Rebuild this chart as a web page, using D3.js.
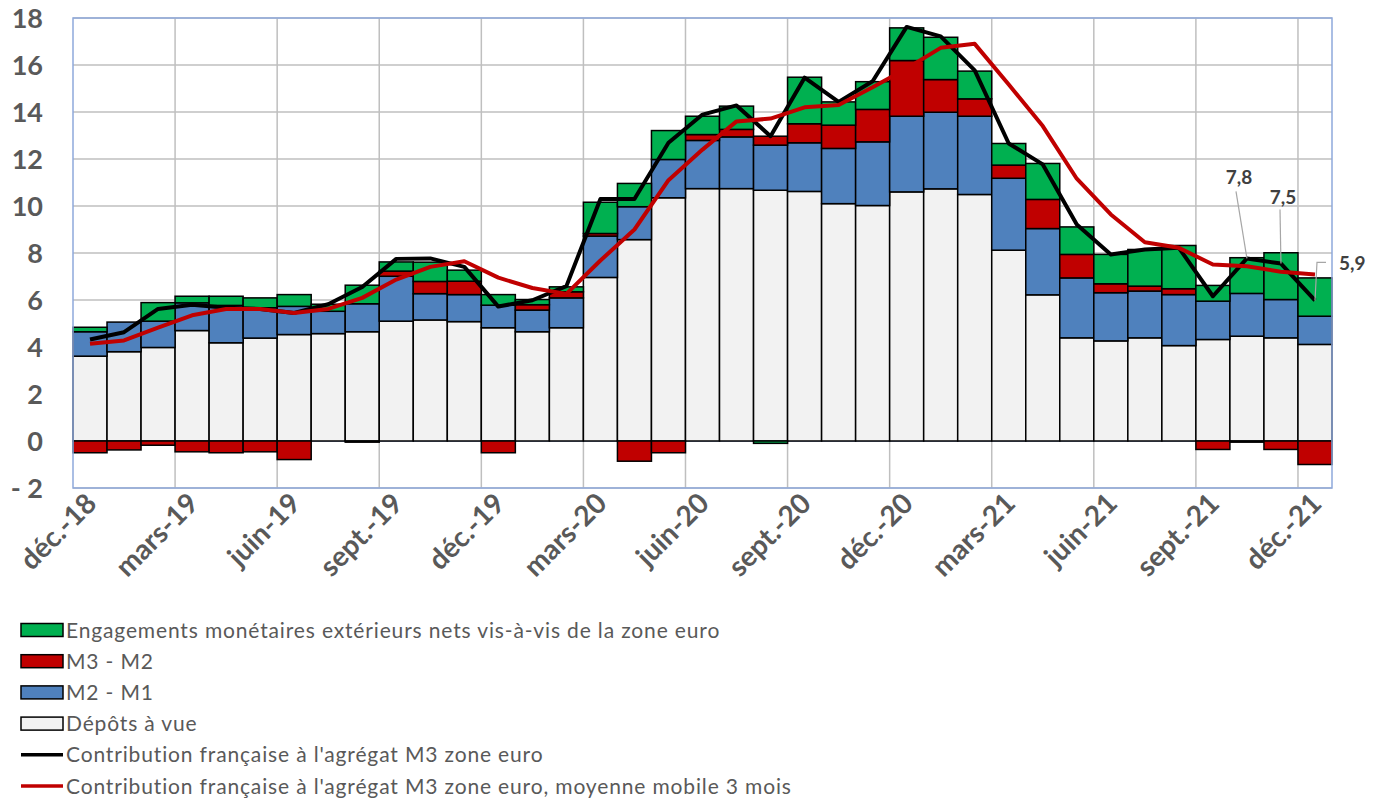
<!DOCTYPE html>
<html><head><meta charset="utf-8">
<script src="https://cdn.jsdelivr.net/npm/d3@7"></script>
<style>
body{margin:0;background:#fff;}
svg{display:block;}
</style></head>
<body><svg id="c" width="1379" height="798"></svg>
<script>
const categories = ["déc.-18","janv.-19","févr.-19","mars-19","avr.-19","mai-19","juin-19","juil.-19","août-19","sept.-19","oct.-19","nov.-19",
"déc.-19","janv.-20","févr.-20","mars-20","avr.-20","mai-20","juin-20","juil.-20","août-20","sept.-20","oct.-20","nov.-20",
"déc.-20","janv.-21","févr.-21","mars-21","avr.-21","mai-21","juin-21","juil.-21","août-21","sept.-21","oct.-21","nov.-21","déc.-21"];
const depotsAVue = [3.61,3.80,3.98,4.70,4.18,4.38,4.53,4.57,4.65,5.10,5.15,5.08,4.82,4.65,4.82,6.96,8.57,10.35,10.74,10.74,10.67,10.62,10.10,10.02,10.60,10.73,10.49,8.12,6.22,4.39,4.26,4.39,4.06,4.32,4.46,4.39,4.11];
const m2m1 = [1.04,1.26,1.12,1.18,1.59,1.29,1.20,0.95,1.19,1.91,1.12,1.15,0.96,0.92,1.27,1.76,1.40,1.63,2.05,2.20,1.92,2.07,2.35,2.71,3.22,3.26,3.33,3.06,2.82,2.55,2.05,1.99,2.17,1.63,1.82,1.63,1.20];
const m3m2 = [-0.50,-0.38,-0.18,-0.46,-0.50,-0.46,-0.79,0,-0.05,0.22,0.52,0.57,-0.50,0.23,0.26,0.11,-0.86,-0.50,0.25,0.32,0.38,0.81,0.99,1.38,2.37,1.39,0.74,0.56,1.24,1.00,0.38,0.21,0.25,-0.36,-0.05,-0.36,-1.00];
const engagements = [0.19,0,0.79,0.28,0.39,0.42,0.50,0.30,0.79,0.39,0.82,0.47,0.45,0.22,0.21,1.33,0.99,1.23,0.78,0.99,-0.10,1.98,0.99,1.18,1.39,1.80,1.18,0.92,1.53,1.17,1.25,1.56,1.84,0.67,1.52,1.99,1.63];
const contribution = [4.32,4.63,5.62,5.80,5.67,5.62,5.45,5.82,6.55,7.75,7.77,7.41,5.72,5.99,6.59,10.30,10.30,12.69,13.89,14.28,12.97,15.46,14.43,15.31,17.62,17.22,15.77,12.66,11.77,9.21,7.94,8.15,8.22,6.16,7.77,7.55,5.98];
const moyenneMobile = [4.14,4.28,4.82,5.35,5.62,5.62,5.45,5.62,6.09,6.87,7.41,7.65,6.95,6.51,6.26,7.68,9.00,11.10,12.40,13.60,13.72,14.20,14.30,15.05,15.85,16.73,16.90,15.17,13.40,11.16,9.64,8.46,8.22,7.51,7.44,7.20,7.09];
const yTicks = [-2,0,2,4,6,8,10,12,14,16,18];
const seriesNames = ["Engagements monétaires extérieurs nets vis-à-vis de la zone euro","M3 - M2","M2 - M1","Dépôts à vue",
"Contribution française à l'agrégat M3 zone euro","Contribution française à l'agrégat M3 zone euro, moyenne mobile 3 mois"];
const dataLabels = [{i:34, text:"7,8"},{i:35, text:"7,5"},{i:36, text:"5,9"}];

const keys = ["depots","m2m1","m3m2","eng"];
const colors = {depots:"#F2F2F2", m2m1:"#4F81BD", m3m2:"#C00000", eng:"#00B050"};
const rows = categories.map((c,i)=>({cat:c, depots:depotsAVue[i], m2m1:m2m1[i], m3m2:m3m2[i], eng:engagements[i]}));

const svg = d3.select("#c");
const L=73, R=1332, T=18, B=488;
const x = d3.scaleBand().domain(categories).range([L,R]).padding(0);
const y = d3.scaleLinear().domain([-2,18]).range([B,T]);
const font = "Lato, 'Open Sans', sans-serif";

// gridlines
const g = svg.append("g");
g.selectAll("line.h").data(yTicks).join("line")
 .attr("x1",L).attr("x2",R).attr("y1",d=>y(d)).attr("y2",d=>y(d))
 .attr("stroke","#BFBFBF").attr("stroke-width",1.5);
g.selectAll("line.v").data(categories.filter((c,i)=>i>0 && i%3===0)).join("line")
 .attr("x1",d=>x(d)).attr("x2",d=>x(d)).attr("y1",T).attr("y2",B)
 .attr("stroke","#BFBFBF").attr("stroke-width",1.5);
g.append("line").attr("x1",L).attr("x2",R).attr("y1",y(0)).attr("y2",y(0)).attr("stroke","#8EA9DB").attr("stroke-width",1.5);

// stacked bars
const stack = d3.stack().keys(keys).offset(d3.stackOffsetDiverging);
const layers = stack(rows);
const bars = svg.append("g");
layers.forEach(layer=>{
  bars.append("g").selectAll("rect").data(layer.filter(d=>d[1]-d[0]!==0)).join("rect")
   .attr("x",d=>x(d.data.cat)).attr("width",x.bandwidth())
   .attr("y",d=>y(Math.max(d[0],d[1]))).attr("height",d=>Math.abs(y(d[0])-y(d[1])))
   .attr("fill",colors[layer.key]).attr("stroke","#000").attr("stroke-width",1.5);
});

// plot border
svg.append("rect").attr("x",L).attr("y",T).attr("width",R-L).attr("height",B-T)
 .attr("fill","none").attr("stroke","#8EA9DB").attr("stroke-width",1.5);

// lines
const cx = (i)=>x(categories[i])+x.bandwidth()/2;
const line = d3.line().x((d,i)=>cx(i)).y(d=>y(d));
svg.append("path").attr("d",line(contribution)).attr("fill","none").attr("stroke","#000").attr("stroke-width",4).attr("stroke-linejoin","round");
svg.append("path").attr("d",line(moyenneMobile)).attr("fill","none").attr("stroke","#C00000").attr("stroke-width",4).attr("stroke-linejoin","round");

// data labels with leader lines
const lab = svg.append("g");
const lblPos = {34:{tx:1239,ty:184, path:(px,py)=>`M1236,${py-67}L${px},${py}`},
                35:{tx:1283,ty:204, path:(px,py)=>`M1280,${py-54}L${px},${py}`},
                36:{tx:1339,ty:270, anchor:"start", path:(px,py)=>`M1326,${py-38}L${px+2},${py-38}L${px},${py}`}};
dataLabels.forEach(dl=>{
  const px=cx(dl.i), py=y(contribution[dl.i]);
  const p=lblPos[dl.i];
  lab.append("path").attr("d",p.path(px,py)).attr("fill","none").attr("stroke","#A6A6A6").attr("stroke-width",1.2);
  lab.append("text").attr("x",p.tx).attr("y",p.ty).attr("text-anchor",p.anchor||"middle")
   .attr("font-family",font).attr("font-weight","bold").attr("font-size",19).attr("fill","#404040").text(dl.text);
});

// y axis labels
svg.append("g").selectAll("text").data(yTicks).join("text")
 .attr("x",43).attr("y",d=>y(d)).attr("dy","0.36em").attr("text-anchor","end")
 .attr("font-family",font).attr("font-weight","bold").attr("font-size",27).attr("fill","#595959")
 .text(d=>d<0?"- "+Math.abs(d):d);

// x axis labels
svg.append("g").selectAll("text").data(categories.filter((c,i)=>i%3===0)).join("text")
 .attr("transform",d=>`translate(${x(d)+x.bandwidth()/2+1},${498}) rotate(-45)`)
 .attr("text-anchor","end").attr("dy","0.36em")
 .attr("font-family",font).attr("font-weight","bold").attr("font-size",28).attr("fill","#595959")
 .text(d=>d);

// legend
const leg = svg.append("g");
const legKinds = [{t:"rect",c:colors.eng},{t:"rect",c:colors.m3m2},{t:"rect",c:colors.m2m1},{t:"rect",c:colors.depots},{t:"line",c:"#000"},{t:"line",c:"#C00000"}];
seriesNames.forEach((name,i)=>{
  const yy = 630 + i*31.2;
  const k = legKinds[i];
  if(k.t==="rect") leg.append("rect").attr("x",21).attr("y",yy-6.5).attr("width",42).attr("height",13).attr("fill",k.c).attr("stroke","#000").attr("stroke-width",1.5);
  else leg.append("line").attr("x1",21).attr("x2",63).attr("y1",yy).attr("y2",yy).attr("stroke",k.c).attr("stroke-width",3.5);
  leg.append("text").attr("x",66).attr("y",yy).attr("dy","0.36em").attr("font-family",font).attr("font-size",21)
   .attr("letter-spacing","0.85px").attr("fill","#595959").text(name);
});
</script></body></html>
